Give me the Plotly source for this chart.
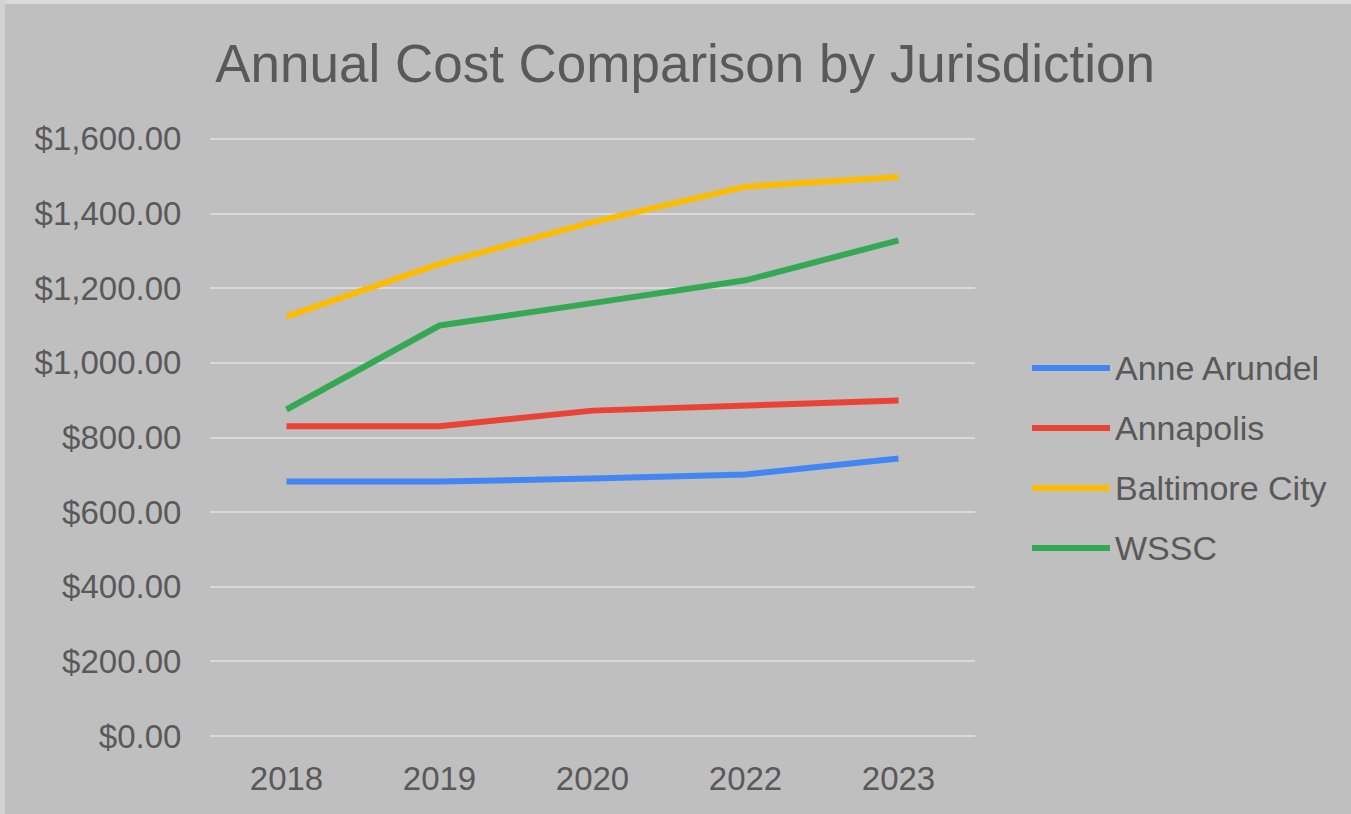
import plotly.graph_objects as go

# Annual cost per jurisdiction, by year
years = ["2018", "2019", "2020", "2022", "2023"]
anne_arundel = [682, 682, 690, 701, 744]
annapolis = [830, 830, 872, 884, 899]
baltimore_city = [1124, 1265, 1377, 1472, 1498]
wssc = [875, 1100, 1160, 1221, 1328]

series_names = ["Anne Arundel", "Annapolis", "Baltimore City", "WSSC"]
series_values = [anne_arundel, annapolis, baltimore_city, wssc]
series_colors = ["#4285F4", "#EA4335", "#FBBC04", "#34A853"]

y_ticks = [0, 200, 400, 600, 800, 1000, 1200, 1400, 1600]

W, H = 1351, 814
M_L, M_R, M_T, M_B = 210, 376, 137, 76
PW, PH = W - M_L - M_R, H - M_T - M_B

FONT = "Liberation Sans, Arial, sans-serif"
TEXT = "#595959"


def px_x(px):
    return (px - M_L) / PW


def px_y(py):
    return (H - M_B - py) / PH


fig = go.Figure()
for name, vals, col in zip(series_names, series_values, series_colors):
    fig.add_trace(go.Scatter(
        x=years, y=vals, name=name, mode="lines",
        line=dict(color=col, width=6),
        showlegend=False,
    ))

shapes = [
    # light frame along the top and left edge
    dict(type="rect", xref="paper", yref="paper", x0=px_x(0), x1=px_x(W),
         y0=px_y(4), y1=px_y(0), fillcolor="#d9d9d9", line_width=0, layer="below"),
    dict(type="rect", xref="paper", yref="paper", x0=px_x(0), x1=px_x(5),
         y0=px_y(H), y1=px_y(0), fillcolor="#d2d2d2", line_width=0, layer="below"),
]
annotations = []

# legend: line sample + label per series
leg_x0, leg_x1, leg_tx, leg_y0, leg_dy = 1032, 1110, 1113, 368, 60
for i, (name, col) in enumerate(zip(series_names, series_colors)):
    yy = px_y(leg_y0 + i * leg_dy)
    shapes.append(dict(type="line", xref="paper", yref="paper",
                       x0=px_x(leg_x0), x1=px_x(leg_x1), y0=yy, y1=yy,
                       line=dict(color=col, width=6)))
    annotations.append(dict(xref="paper", yref="paper", x=px_x(leg_tx), y=yy,
                            xanchor="left", yanchor="middle", showarrow=False,
                            text=name, font=dict(family=FONT, size=34, color=TEXT)))

fig.update_layout(
    width=W, height=H,
    margin=dict(l=M_L, r=M_R, t=M_T, b=M_B),
    paper_bgcolor="#bfbfbf", plot_bgcolor="#bfbfbf",
    title=dict(text="Annual Cost Comparison by Jurisdiction",
               x=685 / W, xanchor="center", y=1 - 63 / H, yanchor="middle",
               font=dict(family=FONT, size=53, color=TEXT)),
    font=dict(family=FONT, color=TEXT),
    shapes=shapes,
    annotations=annotations,
    showlegend=False,
    xaxis=dict(type="category", range=[-0.5, 4.5], showgrid=False,
               zeroline=False, showline=False,
               ticks="outside", ticklen=11, tickcolor="rgba(0,0,0,0)",
               tickfont=dict(family=FONT, size=33, color=TEXT)),
    yaxis=dict(range=[-5, 1605], tickvals=y_ticks,
               tickformat="$,.2f", showgrid=True, gridcolor="#d9d9d9",
               gridwidth=1.5, zeroline=False, showline=False,
               ticks="outside", ticklen=21, tickcolor="rgba(0,0,0,0)",
               tickfont=dict(family=FONT, size=33, color=TEXT)),
)

fig.write_html("out.html")
